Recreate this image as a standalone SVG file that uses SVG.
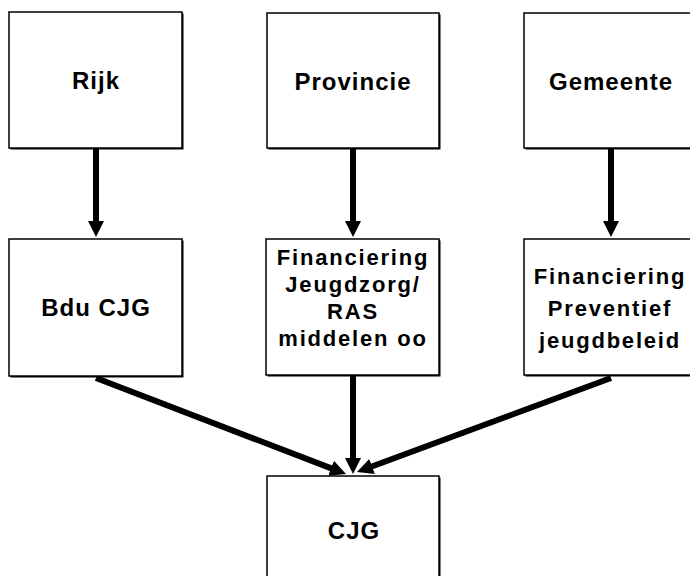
<svg xmlns="http://www.w3.org/2000/svg" width="690" height="576" viewBox="0 0 690 576">
<style>
.box{fill:#fff;stroke:#000;stroke-width:1.5}
.sh{fill:#000}
.t{font-family:"Liberation Sans",Arial,sans-serif;font-weight:bold;fill:#000;text-anchor:middle}
.big{font-size:24px;letter-spacing:1px}
.sm{font-size:22px;letter-spacing:1.8px}
.c{stroke:#000;stroke-width:6;fill:none;marker-end:url(#ah)}
</style>
<defs>
<marker id="ah" markerUnits="userSpaceOnUse" markerWidth="16" markerHeight="16" refX="1" refY="8" orient="auto">
<path d="M0,0 L16,8 L0,16 z" fill="#000"/>
</marker>
</defs>
<rect width="690" height="576" fill="#fff"/>
<g id="connectors">
<line class="c" x1="96" y1="149" x2="96" y2="222"/>
<line class="c" x1="353" y1="149" x2="353" y2="222"/>
<line class="c" x1="611" y1="149" x2="611" y2="222"/>
<line class="c" x1="96" y1="378" x2="332" y2="468.6"/>
<line class="c" x1="353" y1="376" x2="353" y2="459"/>
<line class="c" x1="611" y1="378" x2="371.1" y2="466.8"/>
</g>
<g id="rijk">
<rect class="sh" x="10.5" y="13.5" width="173" height="136"/>
<rect class="box" x="9" y="12" width="173" height="136"/>
<text class="t big" x="96" y="89">Rijk</text>
</g>
<g id="provincie">
<rect class="sh" x="268.5" y="14.5" width="172" height="135"/>
<rect class="box" x="267" y="13" width="172" height="135"/>
<text class="t big" x="353" y="90">Provincie</text>
</g>
<g id="gemeente">
<rect class="sh" x="525.5" y="14.5" width="173" height="135"/>
<rect class="box" x="524" y="13" width="173" height="135"/>
<text class="t big" x="611" y="90">Gemeente</text>
</g>
<g id="bdu">
<rect class="sh" x="10.5" y="240.5" width="173" height="137"/>
<rect class="box" x="9" y="239" width="173" height="137"/>
<text class="t big" x="96" y="316">Bdu CJG</text>
</g>
<g id="fin-jeugdzorg">
<rect class="sh" x="267.5" y="240.5" width="173" height="136"/>
<rect class="box" x="266" y="239" width="173" height="136"/>
<text class="t sm" x="353" y="265">Financiering</text>
<text class="t sm" x="353" y="292">Jeugdzorg/</text>
<text class="t sm" x="353" y="319">RAS</text>
<text class="t sm" x="353" y="346">middelen oo</text>
</g>
<g id="fin-preventief">
<rect class="sh" x="525.5" y="240.5" width="173" height="136"/>
<rect class="box" x="524" y="239" width="173" height="136"/>
<text class="t sm" x="610" y="284">Financiering</text>
<text class="t sm" x="610" y="316">Preventief</text>
<text class="t sm" x="610" y="348">jeugdbeleid</text>
</g>
<g id="cjg">
<rect class="sh" x="268.5" y="477.5" width="172" height="110"/>
<rect class="box" x="267" y="476" width="172" height="110"/>
<text class="t big" x="354" y="539">CJG</text>
</g>
</svg>
